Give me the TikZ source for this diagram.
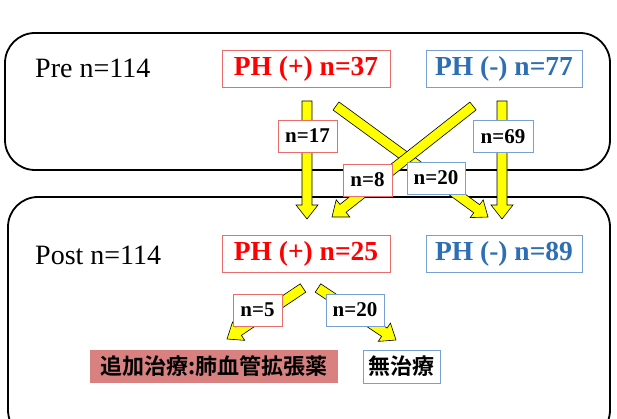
\documentclass[tikz,border=0pt]{standalone}
\usepackage{fontspec}
\setmainfont{Liberation Serif}
\newfontfamily\cjk{Noto Sans CJK JP}[BoldFont={* Bold}]
\usetikzlibrary{calc}
\definecolor{phred}{RGB}{255,0,0}
\definecolor{redline}{RGB}{232,110,110}
\definecolor{phblue}{RGB}{46,110,180}
\definecolor{blueline}{RGB}{120,160,210}
\definecolor{rosefill}{RGB}{217,128,128}
\definecolor{ayellow}{RGB}{255,255,0}
\tikzset{
  group/.style={draw=black, line width=1.8pt, rounded corners=30pt},
  redbox/.style={draw=redline, line width=0.8pt, fill=white, inner sep=0pt},
  bluebox/.style={draw=blueline, line width=0.8pt, fill=white, inner sep=0pt},
  big/.style={font=\fontsize{27.5}{30}\selectfont\bfseries, minimum height=37pt},
  small/.style={font=\fontsize{21}{23}\selectfont\bfseries, minimum height=32pt},
  plain/.style={font=\fontsize{28}{30}\selectfont, anchor=west, inner sep=0pt},
  barrow/.style={draw=black, line width=0.6pt, fill=ayellow},
  jbox/.style={font=\fontsize{22}{24}\selectfont\cjk\bfseries, minimum height=33pt, inner sep=0pt}
}
\newcommand\blockarrow[2]{%
  \coordinate (tmpH) at ($(#2)!14pt!(#1)$);
  \path[barrow] ($(#1)!5pt!90:(#2)$) -- ($(tmpH)!5pt!90:(#2)$) -- ($(tmpH)!11pt!90:(#2)$)
    -- (#2) -- ($(tmpH)!11pt!-90:(#2)$) -- ($(tmpH)!5pt!-90:(#2)$) -- ($(#1)!5pt!-90:(#2)$) -- cycle;%
}
\begin{document}
\begin{tikzpicture}[x=1pt,y=-1pt]
\useasboundingbox (0,0) rectangle (617,419);
% group frames
\draw[group] (5,33) rectangle (610,170);
\draw[group] (8,197) rectangle (610,440);
% texts
\node[plain] (pre) at (35,68) {Pre n=114};
\node[plain] (post) at (35,255) {Post n=114};
% arrow end points
\coordinate (a1s) at (307,101); \coordinate (a1e) at (307,219);
\coordinate (a2s) at (502,101); \coordinate (a2e) at (502,219);
\coordinate (a3s) at (336,106); \coordinate (a3e) at (488,217);
\coordinate (a4s) at (473,106); \coordinate (a4e) at (332,217);
\coordinate (a5s) at (303,288); \coordinate (a5e) at (227,339);
\coordinate (a6s) at (318,288); \coordinate (a6e) at (396,340);
\blockarrow{a1s}{a1e}
\blockarrow{a2s}{a2e}
\blockarrow{a3s}{a3e}
\blockarrow{a4s}{a4e}
\blockarrow{a5s}{a5e}
\blockarrow{a6s}{a6e}
% main nodes
\node[redbox, big, text=phred, minimum width=168pt] (p37) at (306,68.5) {PH (+) n=37};
\node[bluebox, big, text=phblue, minimum width=156pt] (m77) at (504,68.5) {PH (-) n=77};
\node[redbox, big, text=phred, minimum width=168pt] (p25) at (306,253.5) {PH (+) n=25};
\node[bluebox, big, text=phblue, minimum width=156pt] (m89) at (504,253.5) {PH (-) n=89};
% labels
\node[redbox, small, minimum width=59pt] (l17) at (307.5,136) {n=17};
\node[bluebox, small, minimum width=60pt] (l69) at (503,136.5) {n=69};
\node[redbox, small, minimum width=49pt] (l8) at (367.5,180) {n=8};
\node[bluebox, small, minimum width=58pt] (l20) at (436,178) {n=20};
\node[redbox, small, minimum width=49pt] (l5) at (257.5,310) {n=5};
\node[bluebox, small, minimum width=58pt] (l20b) at (355,310) {n=20};
% bottom boxes
\node[jbox, fill=rosefill, minimum width=248pt] (tx) at (214,366.5) {追加治療:肺血管拡張薬};
\node[jbox, draw=blueline, line width=0.8pt, fill=white, minimum width=77pt] (nt) at (401.5,366.5) {無治療};
\end{tikzpicture}
\end{document}
